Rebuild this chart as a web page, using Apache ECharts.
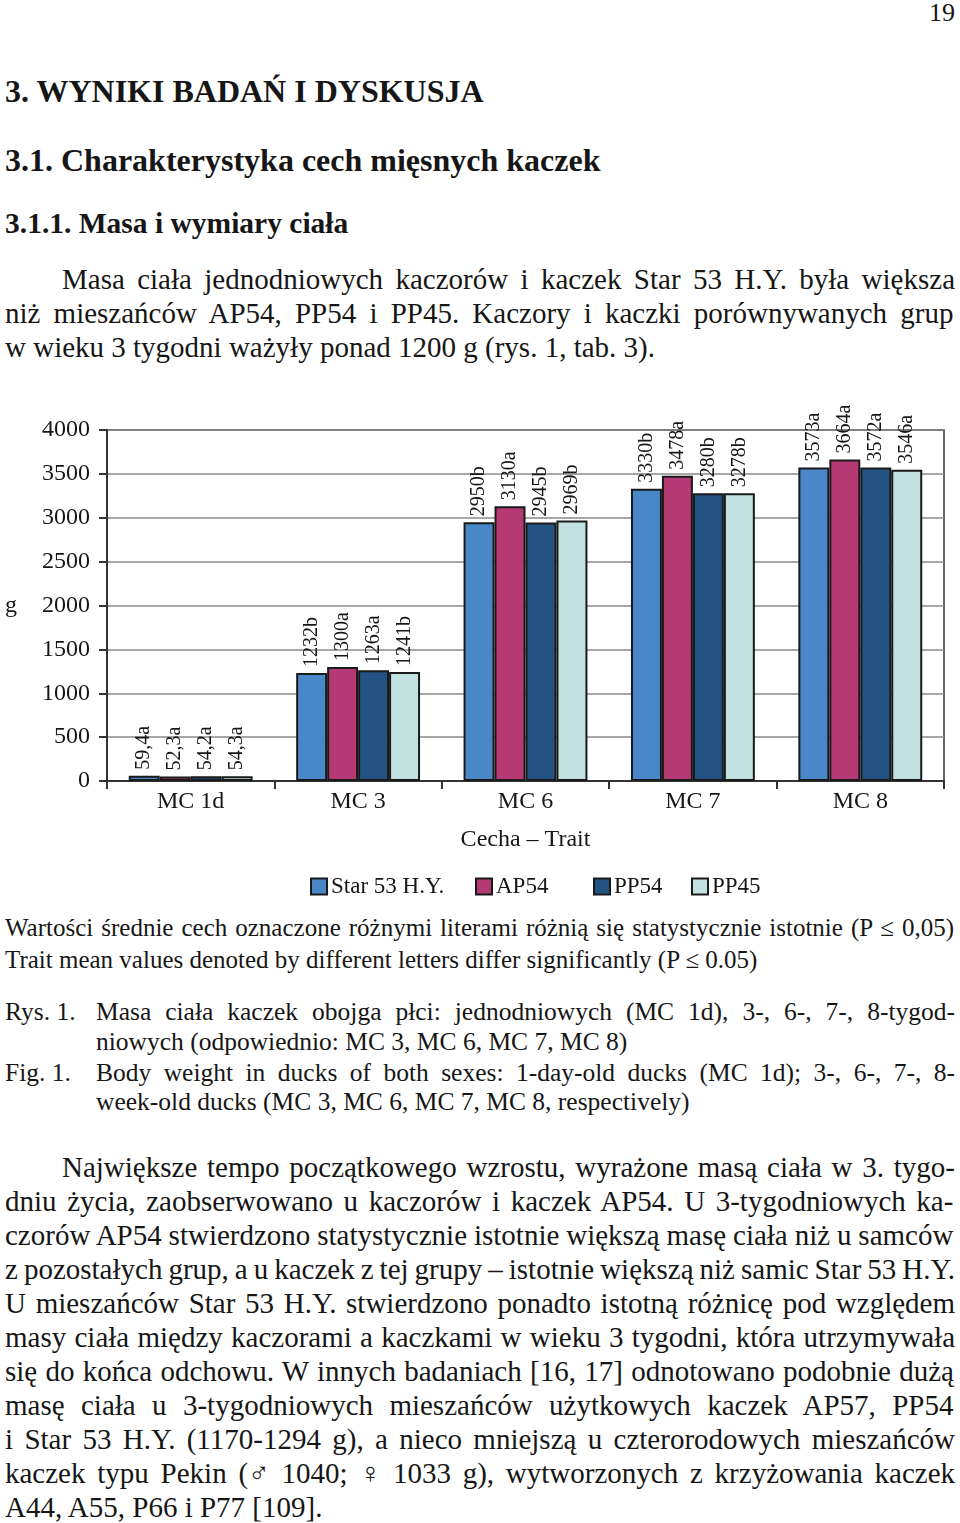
<!DOCTYPE html>
<html><head><meta charset="utf-8">
<script src="https://cdn.jsdelivr.net/npm/echarts@6/dist/echarts.min.js"></script>
<style>
html,body{margin:0;padding:0;background:#fff;}
body{width:960px;height:1523px;position:relative;overflow:hidden;font-family:"Liberation Serif",serif;color:#161616;}
.t{position:absolute;white-space:nowrap;font-family:"Liberation Serif",serif;}
#chart{position:absolute;left:0;top:380px;width:960px;height:525px;}
</style></head><body>
<div id="page"></div>
<div id="chart"></div>
<script>
// ---- chart data ----
const categories = ['MC 1d', 'MC 3', 'MC 6', 'MC 7', 'MC 8'];
const seriesNames = ['Star 53 H.Y.', 'AP54', 'PP54', 'PP45'];
const starValues = [59.4, 1232, 2950, 3330, 3573];
const ap54Values = [52.3, 1300, 3130, 3478, 3664];
const pp54Values = [54.2, 1263, 2945, 3280, 3572];
const pp45Values = [54.3, 1241, 2969, 3278, 3546];
const starLetters = ['a', 'b', 'b', 'b', 'a'];
const ap54Letters = ['a', 'a', 'a', 'a', 'a'];
const pp54Letters = ['a', 'a', 'b', 'b', 'a'];
const pp45Letters = ['a', 'b', 'b', 'b', 'a'];
const yTicks = [0, 500, 1000, 1500, 2000, 2500, 3000, 3500, 4000];

// ---- page text ----
// [text, left, centerY, fontSize, bold, justifyTo]
const lines = [
 ['19', null, 12, 26, false, 955],
 ['3. WYNIKI BADAŃ I DYSKUSJA', 5, 91, 32, true, null],
 ['3.1. Charakterystyka cech mięsnych kaczek', 5, 160, 32, true, null],
 ['3.1.1. Masa i wymiary ciała', 5, 223, 29.5, true, null],
 ['Masa ciała jednodniowych kaczorów i kaczek Star 53 H.Y. była większa', 62, 279, 29, false, 955],
 ['niż mieszańców AP54, PP54 i PP45. Kaczory i kaczki porównywanych grup', 5, 313, 29, false, 955],
 ['w wieku 3 tygodni ważyły ponad 1200 g (rys. 1, tab. 3).', 5, 347, 29, false, null],
 ['Wartości średnie cech oznaczone różnymi literami różnią się statystycznie istotnie (P ≤ 0,05)', 5, 928, 25, false, 955],
 ['Trait mean values denoted by different letters differ significantly (P ≤ 0.05)', 5, 960, 25, false, null],
 ['Rys. 1.', 5, 1011, 25.5, false, null],
 ['Masa ciała kaczek obojga płci: jednodniowych (MC 1d), 3-, 6-, 7-, 8-tygod-', 96, 1011, 25.5, false, 955],
 ['niowych (odpowiednio: MC 3, MC 6, MC 7, MC 8)', 96, 1041, 25.5, false, null],
 ['Fig. 1.', 5, 1072, 25.5, false, null],
 ['Body weight in ducks of both sexes: 1-day-old ducks (MC 1d); 3-, 6-, 7-, 8-', 96, 1072, 25.5, false, 955],
 ['week-old ducks (MC 3, MC 6, MC 7, MC 8, respectively)', 96, 1101, 25.5, false, null],
 ['Największe tempo początkowego wzrostu, wyrażone masą ciała w 3. tygo-', 62, 1167, 29, false, 955],
 ['dniu życia, zaobserwowano u kaczorów i kaczek AP54. U 3-tygodniowych ka-', 5, 1201, 29, false, 955],
 ['czorów AP54 stwierdzono statystycznie istotnie większą masę ciała niż u samców', 5, 1235, 29, false, 955],
 ['z pozostałych grup, a u kaczek z tej grupy – istotnie większą niż samic Star 53 H.Y.', 5, 1269, 29, false, 955],
 ['U mieszańców Star 53 H.Y. stwierdzono ponadto istotną różnicę pod względem', 5, 1303, 29, false, 955],
 ['masy ciała między kaczorami a kaczkami w wieku 3 tygodni, która utrzymywała', 5, 1337, 29, false, 955],
 ['się do końca odchowu. W innych badaniach [16, 17] odnotowano podobnie dużą', 5, 1371, 29, false, 955],
 ['masę ciała u 3-tygodniowych mieszańców użytkowych kaczek AP57, PP54', 5, 1405, 29, false, 955],
 ['i Star 53 H.Y. (1170-1294 g), a nieco mniejszą u czterorodowych mieszańców', 5, 1439, 29, false, 955],
 ['kaczek typu Pekin (♂ 1040; ♀ 1033 g), wytworzonych z krzyżowania kaczek', 5, 1473, 29, false, 955],
 ['A44, A55, P66 i P77 [109].', 5, 1507, 29, false, null]
];
const page = document.getElementById('page');
const ctx = document.createElement('canvas').getContext('2d');
lines.forEach(l => {
  const [txt, left, cy, fs, bold, right] = l;
  const d = document.createElement('div');
  d.className = 't';
  d.textContent = txt;
  d.style.fontSize = fs + 'px';
  const lh = Math.round(fs * 1.2);
  d.style.lineHeight = lh + 'px';
  d.style.top = (cy - lh / 2) + 'px';
  if (bold) d.style.fontWeight = 'bold';
  ctx.font = (bold ? 'bold ' : '') + fs + 'px "Liberation Serif"';
  const w = ctx.measureText(txt).width;
  if (left === null) {
    d.style.left = (right - w) + 'px';
  } else {
    d.style.left = left + 'px';
    if (right) {
      const spaces = (txt.match(/ /g) || []).length;
      if (spaces > 0) d.style.wordSpacing = ((right - left - w) / spaces) + 'px';
    }
  }
  page.appendChild(d);
});

// ---- chart ----
const FONT = '"Liberation Serif", serif';
const colors = ['#4a87c9', '#b53a73', '#245282', '#c2e2e2'];
const allValues = [starValues, ap54Values, pp54Values, pp45Values];
const allLetters = [starLetters, ap54Letters, pp54Letters, pp45Letters];
const legendLefts = [305, 470, 588, 686];
const chart = echarts.init(document.getElementById('chart'));
chart.setOption({
  animation: false,
  textStyle: {fontFamily: FONT},
  grid: {left: 107, right: 16, top: 50, bottom: 124, show: true, borderColor: '#333', borderWidth: 1.5, backgroundColor: 'transparent'},
  legend: seriesNames.map((n, i) => ({
    data: [n], left: legendLefts[i], top: 490, itemWidth: 16, itemHeight: 16, icon: 'rect',
    selectedMode: false,
    textStyle: {fontFamily: FONT, fontSize: 23, color: '#161616', padding: [0, 0, 0, -1]}
  })),
  xAxis: {
    type: 'category', data: categories,
    axisLine: {lineStyle: {color: '#333', width: 2}},
    axisTick: {show: true, length: 8, lineStyle: {color: '#333', width: 2}},
    axisLabel: {fontFamily: FONT, fontSize: 24, color: '#161616', margin: 9},
    name: 'Cecha – Trait', nameLocation: 'middle', nameGap: 47,
    nameTextStyle: {fontFamily: FONT, fontSize: 24, color: '#161616'}
  },
  yAxis: {
    type: 'value', min: 0, max: 4000, interval: 500,
    axisLine: {show: true, lineStyle: {color: '#333', width: 2}},
    axisTick: {show: true, length: 8, lineStyle: {color: '#333', width: 2}},
    axisLabel: {fontFamily: FONT, fontSize: 24, color: '#161616', margin: 17,
      formatter: v => yTicks.includes(v) ? String(v) : ''},
    splitLine: {lineStyle: {color: '#8a8a8a', width: 1.5}},
    name: 'g', nameLocation: 'middle', nameGap: 90, nameRotate: 0,
    nameTextStyle: {fontFamily: FONT, fontSize: 24, color: '#161616'}
  },
  series: seriesNames.map((n, i) => ({
    name: n, type: 'bar', barGap: '0%', barCategoryGap: '26%',
    data: allValues[i],
    itemStyle: {color: colors[i], borderColor: '#1a1a1a', borderWidth: 2},
    label: {
      show: true, position: 'top', rotate: 90, align: 'left', verticalAlign: 'middle', distance: 6,
      fontFamily: FONT, fontSize: 20, color: '#161616',
      formatter: p => String(p.value).replace('.', ',') + allLetters[i][p.dataIndex]
    }
  }))
});
</script>
</body></html>
